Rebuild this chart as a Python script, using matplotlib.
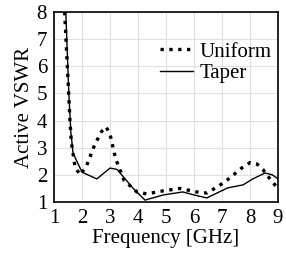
import matplotlib
matplotlib.use('Agg')
import matplotlib.pyplot as plt

freq_uniform = [1.38, 1.5, 1.57, 1.62, 1.75, 1.93, 2.15, 2.45, 2.7, 2.86, 3.0, 3.2, 3.5, 3.96, 4.3, 4.9, 5.5, 6.1, 6.46, 6.9, 7.3, 7.7, 8.0, 8.25, 8.46, 8.75, 9.0]
vswr_uniform = [8.0, 5.5, 4.0, 3.2, 2.3, 2.0, 2.3, 3.1, 3.6, 3.77, 3.5, 2.6, 1.8, 1.37, 1.3, 1.41, 1.5, 1.37, 1.33, 1.6, 1.9, 2.25, 2.45, 2.4, 2.2, 1.8, 1.5]

freq_taper = [1.42, 1.53, 1.6, 1.68, 2.0, 2.53, 3.0, 3.25, 3.5, 3.83, 4.25, 4.9, 5.6, 6.0, 6.46, 7.2, 7.75, 8.1, 8.54, 8.8, 9.0]
vswr_taper = [8.0, 5.0, 3.6, 2.8, 2.1, 1.85, 2.25, 2.2, 1.9, 1.5, 1.07, 1.26, 1.37, 1.26, 1.15, 1.52, 1.63, 1.85, 2.07, 2.0, 1.85]

plt.rcParams['font.family'] = 'Liberation Serif'
fig = plt.figure(figsize=(2.86, 2.56), dpi=100)
ax = fig.add_axes([54/286, 1 - 202/256, 224/286, 190/256])

ax.plot(freq_uniform, vswr_uniform, color='black', linestyle=':', linewidth=2.4, label='Uniform')
ax.plot(freq_taper, vswr_taper, color='black', linestyle='-', linewidth=1.0, label='Taper')

ax.set_xlim(1, 9)
ax.set_ylim(1, 8)
ax.set_xticks(range(1, 10))
ax.set_yticks(range(1, 9))
ax.grid(color='#e0e0e0', linewidth=0.8)
ax.tick_params(length=0, labelsize=15, pad=5)
for s in ax.spines.values():
    s.set_linewidth(1.2)
ax.set_xlabel('Frequency [GHz]', fontsize=15, labelpad=1)
ax.set_ylabel('Active VSWR', fontsize=15, labelpad=2)
ax.legend(loc='upper right', frameon=False, fontsize=15, handlelength=1.6,
          handletextpad=0.3, labelspacing=0.1, bbox_to_anchor=(1.055, 0.94))

fig.savefig('out.png', dpi=100)
